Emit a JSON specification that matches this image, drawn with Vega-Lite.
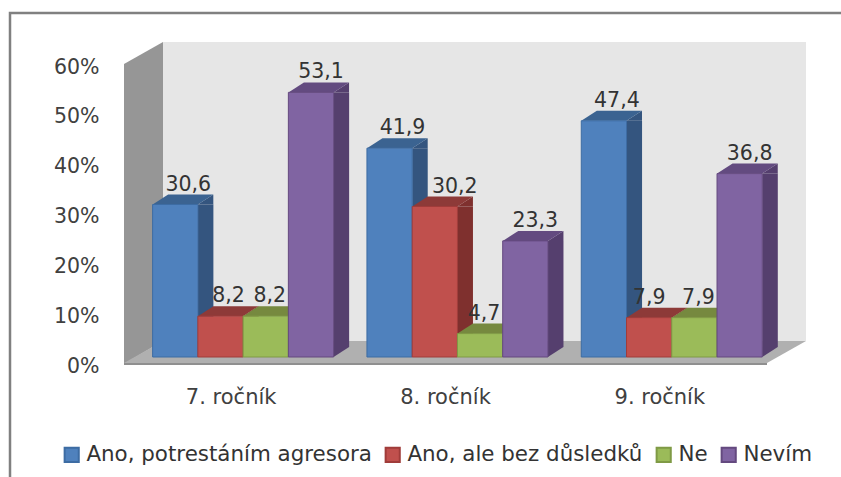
{
"$schema":"https://vega.github.io/schema/vega-lite/v6.json",
"width":643,"height":299,
"autosize":{"type":"none"},
"padding":{"left":124,"top":64,"right":74,"bottom":114},
"background":"white",
"config":{"view":{"stroke":null},"font":"DejaVu Sans","axisY":{"domain":false,"ticks":false,"grid":false,"labelFontSize":20.5,"labelColor":"#404040","labelPadding":25,"labelOffset":3,"labelFont":"DejaVu Sans"}},
"data":{"values":[
{"rocnik":"7. ročník","serie":"Ano, potrestáním agresora","hodnota":30.6,"popisek":"30,6"},
{"rocnik":"7. ročník","serie":"Ano, ale bez důsledků","hodnota":8.2,"popisek":"8,2"},
{"rocnik":"7. ročník","serie":"Ne","hodnota":8.2,"popisek":"8,2"},
{"rocnik":"7. ročník","serie":"Nevím","hodnota":53.1,"popisek":"53,1"},
{"rocnik":"8. ročník","serie":"Ano, potrestáním agresora","hodnota":41.9,"popisek":"41,9"},
{"rocnik":"8. ročník","serie":"Ano, ale bez důsledků","hodnota":30.2,"popisek":"30,2"},
{"rocnik":"8. ročník","serie":"Ne","hodnota":4.7,"popisek":"4,7"},
{"rocnik":"8. ročník","serie":"Nevím","hodnota":23.3,"popisek":"23,3"},
{"rocnik":"9. ročník","serie":"Ano, potrestáním agresora","hodnota":47.4,"popisek":"47,4"},
{"rocnik":"9. ročník","serie":"Ano, ale bez důsledků","hodnota":7.9,"popisek":"7,9"},
{"rocnik":"9. ročník","serie":"Ne","hodnota":7.9,"popisek":"7,9"},
{"rocnik":"9. ročník","serie":"Nevím","hodnota":36.8,"popisek":"36,8"}
]},
"resolve":{"scale":{"fill":"independent","stroke":"independent","x":"independent"},"axis":{"x":"independent"}},
"layer":[
{"data":{"values":[{}]},"mark":{"type":"point","filled":true,"size":4,"opacity":1,"fill":"#e6e6e6","stroke":null,"clip":false,"shape":"M-282.5,-321L360.5,-321L360.5,-22L-282.5,-22Z"},"encoding":{"y":{"datum":0,"type":"quantitative","scale":{"domain":[0,60]},"axis":{"title":null,"values":[0,10,20,30,40,50,60],"labelExpr":"datum.value+'%'"}}}},
{"data":{"values":[{}]},"mark":{"type":"point","filled":true,"size":4,"opacity":1,"fill":"#969696","stroke":null,"clip":false,"shape":"M-321.5,1L-321.5,-299L-282.5,-321L-282.5,-22Z"},"encoding":{"y":{"datum":0,"type":"quantitative","scale":{"domain":[0,60]},"axis":{"title":null,"values":[0,10,20,30,40,50,60],"labelExpr":"datum.value+'%'"}}}},
{"data":{"values":[{}]},"mark":{"type":"point","filled":true,"size":4,"opacity":1,"fill":"#8f8f8f","stroke":null,"clip":false,"shape":"M-321.5,0L321.5,0L321.5,2L-321.5,2Z"},"encoding":{"y":{"datum":0,"type":"quantitative","scale":{"domain":[0,60]},"axis":{"title":null,"values":[0,10,20,30,40,50,60],"labelExpr":"datum.value+'%'"}}}},
{"data":{"values":[{}]},"mark":{"type":"point","filled":true,"size":4,"opacity":1,"fill":"#b0b0b0","stroke":null,"clip":false,"shape":"M-321.5,0L-282.5,-22L360.5,-22L321.5,0Z"},"encoding":{"y":{"datum":0,"type":"quantitative","scale":{"domain":[0,60]},"axis":{"title":null,"values":[0,10,20,30,40,50,60],"labelExpr":"datum.value+'%'"}}}},
{"data":{"values":[{}]},"mark":{"type":"point","filled":false,"size":4,"opacity":1,"stroke":"#808080","strokeWidth":2.5,"clip":false,"shape":"M-435.5,114L-435.5,-350L395.5,-350"},"encoding":{"y":{"datum":0,"type":"quantitative","scale":{"domain":[0,60]},"axis":{"title":null,"values":[0,10,20,30,40,50,60],"labelExpr":"datum.value+'%'"}}}},
{"mark":{"type":"bar","width":15.5,"yOffset":-6,"y2Offset":-16},
 "encoding":{
  "x":{"field":"rocnik","type":"nominal","scale":{"paddingInner":0.155,"paddingOuter":0.0775,"range":[42.4,685.4]},"axis":null},
  "xOffset":{"field":"serie","type":"nominal","sort":null,"scale":{"domain":["Ano, potrestáním agresora","Ano, ale bez důsledků","Ne","Nevím"],"paddingInner":0,"paddingOuter":0,"range":[0,181]}},
  "y":{"field":"hodnota","type":"quantitative","stack":null,"scale":{"domain":[0,60]},"axis":{"title":null,"values":[0,10,20,30,40,50,60],"labelExpr":"datum.value+'%'"}},
  "y2":{"datum":0},
  "fill":{"field":"serie","type":"nominal","legend":null,"scale":{"domain":["Ano, potrestáním agresora","Ano, ale bez důsledků","Ne","Nevím"],"range":["#34557f","#7f302e","#677c3b","#553f6e"]}}}},
{"mark":{"type":"point","filled":true,"size":4,"opacity":1,"stroke":null,"shape":"M34.6,-6L50.1,-16L50.1,-6Z"},
 "encoding":{
  "x":{"field":"rocnik","type":"nominal","title":null,"scale":{"paddingInner":0.155,"paddingOuter":0.0775,"range":[0,643]},"axis":{"domain":false,"ticks":false,"labelAngle":0,"labelFontSize":21,"labelColor":"#404040","labelPadding":23,"labelFont":"DejaVu Sans"}},
  "xOffset":{"field":"serie","type":"nominal","sort":null,"scale":{"domain":["Ano, potrestáním agresora","Ano, ale bez důsledků","Ne","Nevím"],"paddingInner":0,"paddingOuter":0,"range":[0,181]}},
  "y":{"field":"hodnota","type":"quantitative","stack":null,"scale":{"domain":[0,60]},"axis":{"title":null,"values":[0,10,20,30,40,50,60],"labelExpr":"datum.value+'%'"}},
  "fill":{"field":"serie","type":"nominal","legend":null,"scale":{"domain":["Ano, potrestáním agresora","Ano, ale bez důsledků","Ne","Nevím"],"range":["#34557f","#7f302e","#677c3b","#553f6e"]}}}},
{"mark":{"type":"point","filled":true,"size":4,"opacity":1,"stroke":null,"shape":"M34.6,-16L34.6,-6L50.1,-16Z"},
 "encoding":{
  "x":{"field":"rocnik","type":"nominal","scale":{"paddingInner":0.155,"paddingOuter":0.0775,"range":[0,643]},"axis":null},
  "xOffset":{"field":"serie","type":"nominal","sort":null,"scale":{"domain":["Ano, potrestáním agresora","Ano, ale bez důsledků","Ne","Nevím"],"paddingInner":0,"paddingOuter":0,"range":[0,181]}},
  "y":{"datum":0,"type":"quantitative","scale":{"domain":[0,60]},"axis":{"title":null,"values":[0,10,20,30,40,50,60],"labelExpr":"datum.value+'%'"}},
  "fill":{"field":"serie","type":"nominal","legend":null,"scale":{"domain":["Ano, potrestáním agresora","Ano, ale bez důsledků","Ne","Nevím"],"range":["#34557f","#7f302e","#677c3b","#553f6e"]}}}},
{"mark":{"type":"point","filled":true,"size":4,"opacity":1,"stroke":null,"shape":"M-10.6,-6L34.6,-6L50.1,-16L4.9,-16Z"},
 "encoding":{
  "x":{"field":"rocnik","type":"nominal","scale":{"paddingInner":0.155,"paddingOuter":0.0775,"range":[0,643]},"axis":null},
  "xOffset":{"field":"serie","type":"nominal","sort":null,"scale":{"domain":["Ano, potrestáním agresora","Ano, ale bez důsledků","Ne","Nevím"],"paddingInner":0,"paddingOuter":0,"range":[0,181]}},
  "y":{"field":"hodnota","type":"quantitative","stack":null,"scale":{"domain":[0,60]},"axis":{"title":null,"values":[0,10,20,30,40,50,60],"labelExpr":"datum.value+'%'"}},
  "fill":{"field":"serie","type":"nominal","legend":null,"scale":{"domain":["Ano, potrestáním agresora","Ano, ale bez důsledků","Ne","Nevím"],"range":["#3b6391","#8d3a38","#76893f","#634b80"]}}}},
{"mark":{"type":"bar","yOffset":-6,"y2Offset":-6,"strokeWidth":1},
 "encoding":{
  "x":{"field":"rocnik","type":"nominal","scale":{"paddingInner":0.155,"paddingOuter":0.0775,"range":[12,655]},"axis":null},
  "xOffset":{"field":"serie","type":"nominal","sort":null,"scale":{"domain":["Ano, potrestáním agresora","Ano, ale bez důsledků","Ne","Nevím"],"paddingInner":0,"paddingOuter":0,"range":[0,181]}},
  "y":{"field":"hodnota","type":"quantitative","stack":null,"scale":{"domain":[0,60]},"axis":{"title":null,"values":[0,10,20,30,40,50,60],"labelExpr":"datum.value+'%'"}},
  "y2":{"datum":0},
  "fill":{"field":"serie","type":"nominal","title":null,"scale":{"domain":["Ano, potrestáním agresora","Ano, ale bez důsledků","Ne","Nevím"],"range":["#4f81bd","#c0504d","#9bbb59","#8064a2"]},
   "legend":{"orient":"none","legendX":-63,"legendY":380,"direction":"horizontal","columns":4,"symbolType":"square","symbolSize":200,"symbolStrokeWidth":2,"labelFontSize":21.4,"labelColor":"#333333","labelLimit":400,"columnPadding":9,"labelOffset":4,"labelFont":"DejaVu Sans"}},
  "stroke":{"field":"serie","type":"nominal","title":null,"scale":{"domain":["Ano, potrestáním agresora","Ano, ale bez důsledků","Ne","Nevím"],"range":["#3d6ca3","#a03c3a","#7f9a45","#64497f"]},"legend":null}}},
{"transform":[{"filter":"datum.serie==='Ano, potrestáním agresora'"}],"mark":{"type":"text","dx":25,"dy":-20,"baseline":"alphabetic","align":"center","fontSize":20.5,"color":"#333333","font":"DejaVu Sans"},
 "encoding":{
  "x":{"field":"rocnik","type":"nominal","scale":{"domain":["7. ročník","8. ročník","9. ročník"],"paddingInner":0.155,"paddingOuter":0.0775,"range":[0,643]},"axis":null},
  "xOffset":{"field":"serie","type":"nominal","sort":null,"scale":{"domain":["Ano, potrestáním agresora","Ano, ale bez důsledků","Ne","Nevím"],"paddingInner":0,"paddingOuter":0,"range":[0,181]}},
  "y":{"field":"hodnota","type":"quantitative","stack":null,"scale":{"domain":[0,60]},"axis":{"title":null,"values":[0,10,20,30,40,50,60],"labelExpr":"datum.value+'%'"}},
  "text":{"field":"popisek","type":"nominal"}}},
{"transform":[{"filter":"datum.serie==='Ano, ale bez důsledků' && datum.rocnik==='7. ročník'"}],"mark":{"type":"text","dx":20,"dy":-20,"baseline":"alphabetic","align":"center","fontSize":20.5,"color":"#333333","font":"DejaVu Sans"},
 "encoding":{
  "x":{"field":"rocnik","type":"nominal","scale":{"domain":["7. ročník","8. ročník","9. ročník"],"paddingInner":0.155,"paddingOuter":0.0775,"range":[0,643]},"axis":null},
  "xOffset":{"field":"serie","type":"nominal","sort":null,"scale":{"domain":["Ano, potrestáním agresora","Ano, ale bez důsledků","Ne","Nevím"],"paddingInner":0,"paddingOuter":0,"range":[0,181]}},
  "y":{"field":"hodnota","type":"quantitative","stack":null,"scale":{"domain":[0,60]},"axis":{"title":null,"values":[0,10,20,30,40,50,60],"labelExpr":"datum.value+'%'"}},
  "text":{"field":"popisek","type":"nominal"}}},
{"transform":[{"filter":"datum.serie==='Ano, ale bez důsledků' && datum.rocnik==='8. ročník'"}],"mark":{"type":"text","dx":32,"dy":-20,"baseline":"alphabetic","align":"center","fontSize":20.5,"color":"#333333","font":"DejaVu Sans"},
 "encoding":{
  "x":{"field":"rocnik","type":"nominal","scale":{"domain":["7. ročník","8. ročník","9. ročník"],"paddingInner":0.155,"paddingOuter":0.0775,"range":[0,643]},"axis":null},
  "xOffset":{"field":"serie","type":"nominal","sort":null,"scale":{"domain":["Ano, potrestáním agresora","Ano, ale bez důsledků","Ne","Nevím"],"paddingInner":0,"paddingOuter":0,"range":[0,181]}},
  "y":{"field":"hodnota","type":"quantitative","stack":null,"scale":{"domain":[0,60]},"axis":{"title":null,"values":[0,10,20,30,40,50,60],"labelExpr":"datum.value+'%'"}},
  "text":{"field":"popisek","type":"nominal"}}},
{"transform":[{"filter":"datum.serie==='Ano, ale bez důsledků' && datum.rocnik==='9. ročník'"}],"mark":{"type":"text","dx":12,"dy":-20,"baseline":"alphabetic","align":"center","fontSize":20.5,"color":"#333333","font":"DejaVu Sans"},
 "encoding":{
  "x":{"field":"rocnik","type":"nominal","scale":{"domain":["7. ročník","8. ročník","9. ročník"],"paddingInner":0.155,"paddingOuter":0.0775,"range":[0,643]},"axis":null},
  "xOffset":{"field":"serie","type":"nominal","sort":null,"scale":{"domain":["Ano, potrestáním agresora","Ano, ale bez důsledků","Ne","Nevím"],"paddingInner":0,"paddingOuter":0,"range":[0,181]}},
  "y":{"field":"hodnota","type":"quantitative","stack":null,"scale":{"domain":[0,60]},"axis":{"title":null,"values":[0,10,20,30,40,50,60],"labelExpr":"datum.value+'%'"}},
  "text":{"field":"popisek","type":"nominal"}}},
{"transform":[{"filter":"datum.serie==='Ne'"}],"mark":{"type":"text","dx":16,"dy":-20,"baseline":"alphabetic","align":"center","fontSize":20.5,"color":"#333333","font":"DejaVu Sans"},
 "encoding":{
  "x":{"field":"rocnik","type":"nominal","scale":{"domain":["7. ročník","8. ročník","9. ročník"],"paddingInner":0.155,"paddingOuter":0.0775,"range":[0,643]},"axis":null},
  "xOffset":{"field":"serie","type":"nominal","sort":null,"scale":{"domain":["Ano, potrestáním agresora","Ano, ale bez důsledků","Ne","Nevím"],"paddingInner":0,"paddingOuter":0,"range":[0,181]}},
  "y":{"field":"hodnota","type":"quantitative","stack":null,"scale":{"domain":[0,60]},"axis":{"title":null,"values":[0,10,20,30,40,50,60],"labelExpr":"datum.value+'%'"}},
  "text":{"field":"popisek","type":"nominal"}}},
{"transform":[{"filter":"datum.serie==='Nevím'"}],"mark":{"type":"text","dx":22,"dy":-20,"baseline":"alphabetic","align":"center","fontSize":20.5,"color":"#333333","font":"DejaVu Sans"},
 "encoding":{
  "x":{"field":"rocnik","type":"nominal","scale":{"domain":["7. ročník","8. ročník","9. ročník"],"paddingInner":0.155,"paddingOuter":0.0775,"range":[0,643]},"axis":null},
  "xOffset":{"field":"serie","type":"nominal","sort":null,"scale":{"domain":["Ano, potrestáním agresora","Ano, ale bez důsledků","Ne","Nevím"],"paddingInner":0,"paddingOuter":0,"range":[0,181]}},
  "y":{"field":"hodnota","type":"quantitative","stack":null,"scale":{"domain":[0,60]},"axis":{"title":null,"values":[0,10,20,30,40,50,60],"labelExpr":"datum.value+'%'"}},
  "text":{"field":"popisek","type":"nominal"}}}
]
}
